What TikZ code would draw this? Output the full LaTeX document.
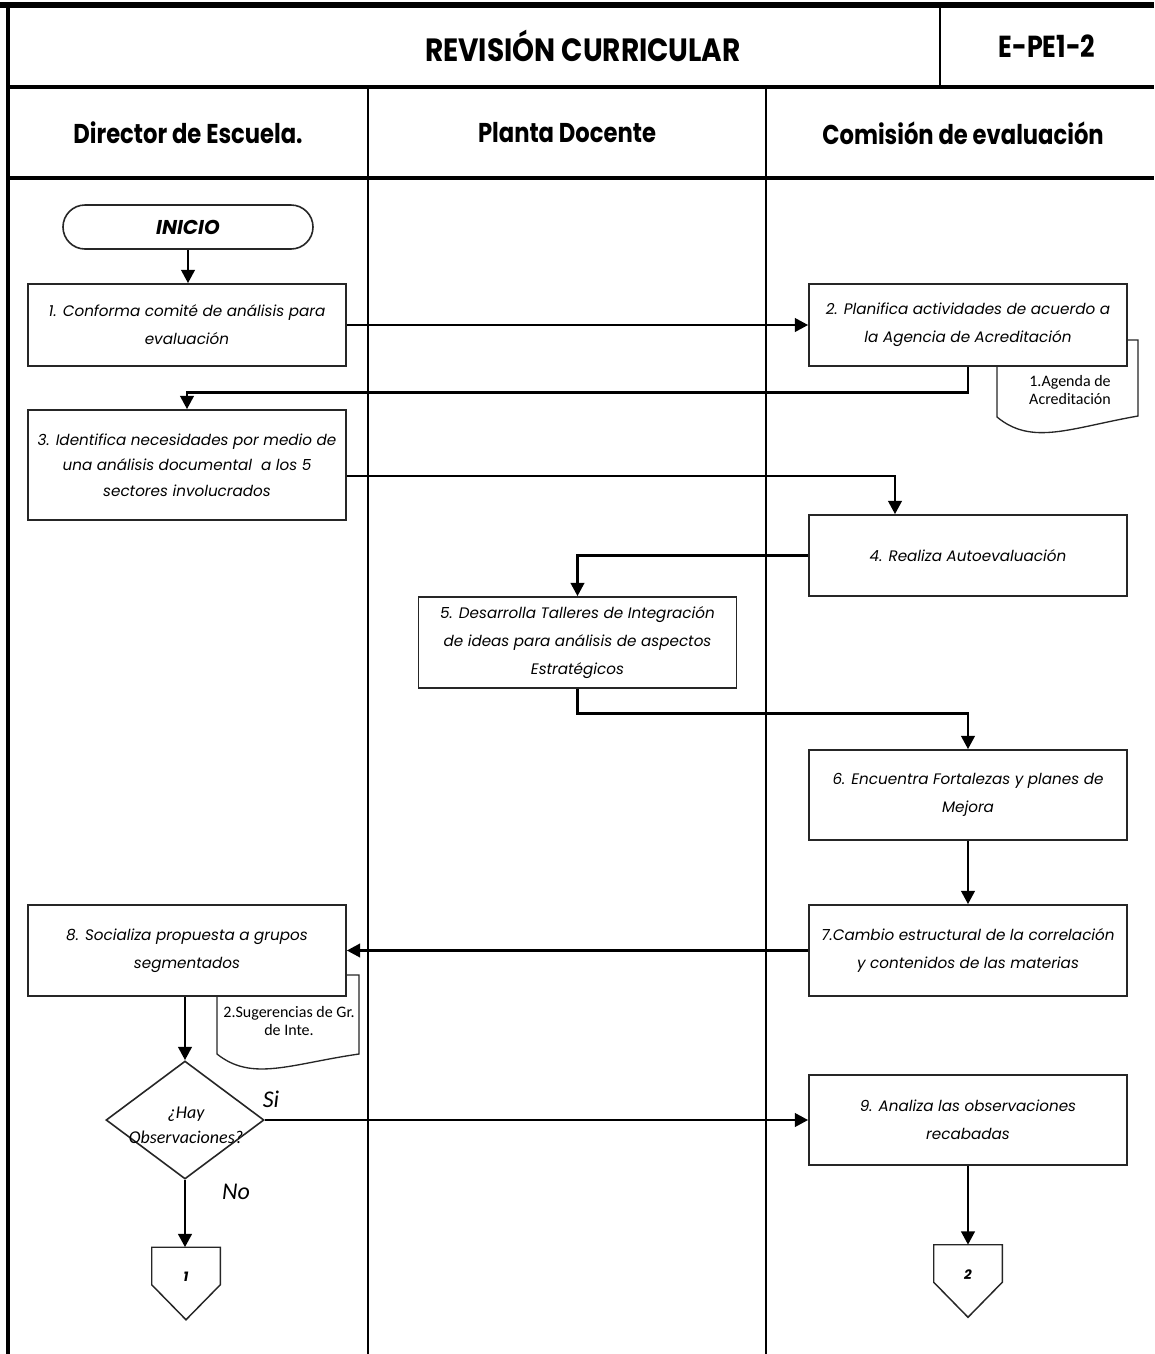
\documentclass[tikz,border=0pt]{standalone}
\usepackage{fontspec}
\setmainfont{Poppins}
\newfontfamily\docfont{Carlito}
\usepackage{graphicx}
\usetikzlibrary{shapes.geometric,calc,arrows.meta}

\tikzset{
  frame/.style={line width=2.2pt, black},
  hdr/.style={font={\fontsize{17}{20}\selectfont\bfseries}, inner sep=0pt},
  stepbox/.style={draw=black!85, line width=1.2pt, fill=white, align=center,
    inner sep=2pt, minimum width=238.5pt,
    font={\fontsize{11.4}{21}\selectfont\itshape}},
  terminal/.style={draw=black!85, line width=1.2pt, fill=white,
    rounded corners=16.5pt, minimum width=187.5pt, minimum height=33pt,
    font={\fontsize{15}{17}\selectfont\bfseries\itshape}},
  decision/.style={draw=black!85, line width=1.2pt, fill=white, shape=diamond,
    inner sep=0pt, minimum width=118.5pt, minimum height=88.5pt},
  offpage/.style={inner sep=0pt, minimum width=51pt, minimum height=27.75pt},
  docshape/.style={draw=black!85, line width=1.0pt, fill=white},
  doctext/.style={align=center, inner sep=0pt,
    font={\docfont\fontsize{12}{13.5}\selectfont}},
  lbl/.style={inner sep=0pt, font={\docfont\fontsize{18}{20}\selectfont\itshape}},
  arr/.style={line width=2.2pt, black, -{Triangle[length=10pt,width=10pt]}},
}

\begin{document}
\begin{tikzpicture}[x=0.75pt,y=-0.75pt]
\useasboundingbox (0,0) rectangle (1154,1354);

% ---- table frame ----
\draw[line width=5pt] (0,5) -- (1154,5);
\draw[line width=3pt] (8,3) -- (8,1354);
\draw[line width=3pt] (8,87) -- (1154,87);
\draw[line width=3pt] (8,178) -- (1154,178);
\draw[frame] (940,5) -- (940,87);
\draw[frame] (368,87) -- (368,1354);
\draw[frame] (766,87) -- (766,1354);

% ---- headings ----
\node[hdr, font={\fontsize{21}{24}\selectfont\bfseries}] (title) at (583,46) {\scalebox{1}[1.15]{REVISIÓN CURRICULAR}};
\node[hdr, font={\fontsize{19}{22}\selectfont\bfseries}] (code) at (1047,46) {\scalebox{1}[1.2]{E-PE1-2}};
\node[hdr] (lane1) at (188,133) {\scalebox{1}[1.2]{Director de Escuela.}};
\node[hdr] (lane2) at (567,133) {\scalebox{1}[1.2]{Planta Docente}};
\node[hdr] (lane3) at (963,133) {\scalebox{1}[1.2]{Comisión de evaluación}};

% ---- documents (drawn under the process boxes) ----
\draw[docshape] (997,340) -- (997,417)
  .. controls (1032,446) and (1070,428) .. (1138,416) -- (1138,340) -- cycle;
\draw[docshape] (217,975) -- (217,1054)
  .. controls (252,1082) and (290,1064) .. (359,1054) -- (359,975) -- cycle;
\node[doctext] (doc1) at (1070,390) {1.Agenda de\\Acreditación};
\node[doctext] (doc2) at (289,1021) {2.Sugerencias de Gr.\\de Inte.};

% ---- flow nodes ----
\node[terminal] (start) at (188,227) {INICIO};
\node[stepbox, minimum height=61.5pt] (b1) at (187,325)
  {1. Conforma comité de análisis para\\evaluación};
\node[stepbox, minimum height=61.5pt] (b2) at (968,325)
  {2. Planifica actividades de acuerdo a\\la Agencia de Acreditación};
\node[stepbox, minimum height=82.5pt, font={\fontsize{11.4}{19}\selectfont\itshape}] (b3) at (187,465)
  {3. Identifica necesidades por medio de\\una análisis documental\ \ a los 5\\sectores involucrados};
\node[stepbox, minimum height=60.75pt] (b4) at (968,555.5)
  {4. Realiza Autoevaluación};
\node[stepbox, minimum height=68.25pt] (b5) at (577.5,642.5)
  {5. Desarrolla Talleres de Integración\\de ideas para análisis de aspectos\\Estratégicos};
\node[stepbox, minimum height=67.5pt] (b6) at (968,795)
  {6. Encuentra Fortalezas y planes de\\Mejora};
\node[stepbox, minimum height=68.25pt] (b7) at (968,950.5)
  {7.Cambio estructural de la correlación\\y contenidos de las materias};
\node[stepbox, minimum height=68.25pt] (b8) at (187,950.5)
  {8. Socializa propuesta a grupos\\segmentados};
\node[stepbox, minimum height=67.5pt] (b9) at (968,1120)
  {9. Analiza las observaciones\\recabadas};

\node[decision] (dec) at (185,1120) {};
\node[align=center, inner sep=0pt, font={\docfont\fontsize{13.5}{19}\selectfont\itshape}]
  (dectext) at (186,1125) {¿Hay\\Observaciones?};
\node[lbl] (si) at (271,1099) {Si};
\node[lbl] (no) at (236,1192) {No};

% ---- off-page connectors ----
\node[offpage] (off1) at (186,1266) {};
\draw[line width=1.1pt, black!85] (off1.north west) -- (off1.south west)
  -- ($(off1.south)+(0,35)$) -- (off1.south east) -- (off1.north east) -- cycle;
\node[font={\fontsize{10}{11}\selectfont\bfseries\itshape}] (off1t) at (186,1277) {1};
\node[offpage] (off2) at (968,1263.5) {};
\draw[line width=1.1pt, black!85] (off2.north west) -- (off2.south west)
  -- ($(off2.south)+(0,35)$) -- (off2.south east) -- (off2.north east) -- cycle;
\node[font={\fontsize{10}{11}\selectfont\bfseries\itshape}] (off2t) at (968,1275) {2};

% ---- connectors ----
\draw[arr] (start.south) -- (start.south |- b1.north);
\draw[arr] (b1.east) -- (b2.west);
\draw[arr] (b2.south) -- ++(0,26) -| (b3.north);
\draw[arr] ($(b3.east)+(0,11)$) -| ($(b4.north)+(-73,0)$);
\draw[arr] (b4.west) -| (b5.north);
\draw[arr] (b5.south) -- ++(0,25) -| (b6.north);
\draw[arr] (b6.south) -- (b7.north);
\draw[arr] (b7.west) -- (b8.east);
\draw[arr] (b8.south -| dec.north) -- (dec.north);
\draw[arr] (dec.east) -- (dec.east -| b9.west);
\draw[arr] (dec.south) -- (off1.north -| dec.south);
\draw[arr] (b9.south) -- (off2.north);
\end{tikzpicture}
\end{document}
